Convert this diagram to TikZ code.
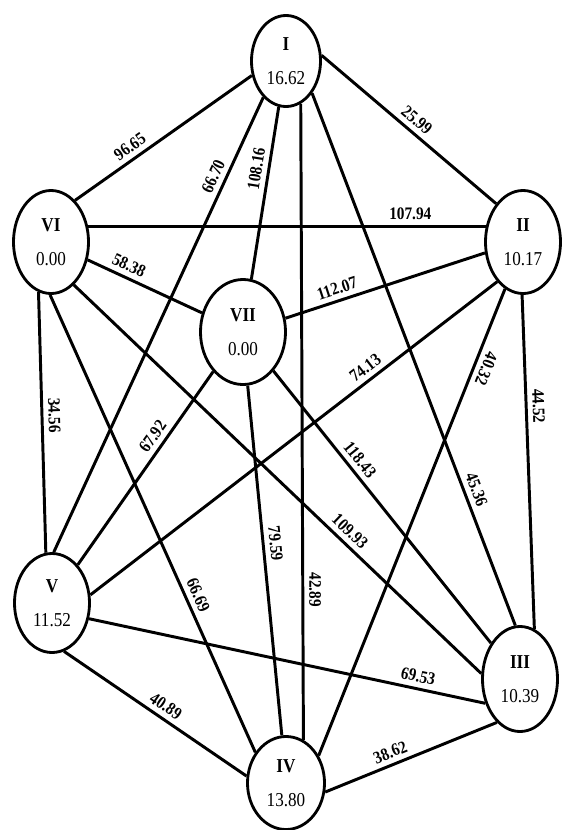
\documentclass[tikz,border=0pt]{standalone}
\usepackage{fontspec}
\setmainfont{Liberation Serif}
\newfontfamily\tallserif[FakeStretch=0.87]{Liberation Serif}
\usetikzlibrary{shapes.geometric}

\begin{document}
\begin{tikzpicture}[x=0.025cm,y=-0.025cm,
  vtx/.style={draw,ellipse,line width=2pt,inner sep=0pt,align=center,
    font=\tallserif\fontsize{14}{24}\selectfont},
  edge/.style={line width=2.1pt},
  wt/.style={sloped,above,inner sep=3.5pt,font=\tallserif\fontsize{12.5}{14}\selectfont\bfseries}]
\useasboundingbox (0,0) rectangle (563,830);
\node[vtx,minimum width=1.725cm,minimum height=2.275cm] (I) at (286,61) {\textbf{I}\\16.62};
\node[vtx,minimum width=1.875cm,minimum height=2.575cm] (VI) at (51,242) {\textbf{VI}\\0.00};
\node[vtx,minimum width=1.875cm,minimum height=2.575cm] (II) at (523,242) {\textbf{II}\\10.17};
\node[vtx,minimum width=2.125cm,minimum height=2.625cm] (VII) at (243,332) {\textbf{VII}\\0.00};
\node[vtx,minimum width=1.875cm,minimum height=2.475cm] (V) at (52,603) {\textbf{V}\\11.52};
\node[vtx,minimum width=1.875cm,minimum height=2.625cm] (III) at (520,679) {\textbf{III}\\10.39};
\node[vtx,minimum width=1.925cm,minimum height=2.325cm] (IV) at (286,783) {\textbf{IV}\\13.80};
\draw[edge] (I.203) -- node[wt,pos=.65] {96.65} (VI.60);
\draw[edge] (I.9) -- node[wt,pos=.5] {25.99} (II.125);
\draw[edge] (I.238) -- node[wt,pos=.185] {66.70} (V.88);
\draw[edge] (I.261) -- node[wt,pos=.37] {108.16} (VII.81);
\draw[edge] (I.-71) -- node[wt,pos=.764] {42.89} (IV.68);
\draw[edge] (I.-51) -- node[wt,pos=.753] {45.36} (III.95);
\draw[edge] (VI.23) -- node[wt,pos=.81] {107.94} (II.157);
\draw[edge] (VI.-26) -- node[wt,pos=.317] {58.38} (VII.155);
\draw[edge] (VI.-104) -- node[wt,pos=.474] {34.56} (V.97);
\draw[edge] (VI.-91) -- node[wt,pos=.667] {66.69} (IV.135);
\draw[edge] (VI.-62) -- node[wt,pos=.657] {109.93} (III.172);
\draw[edge] (VII.18) -- node[wt,pos=.278] {112.07} (II.196);
\draw[edge] (VII.233) -- node[wt,pos=.372] {67.92} (V.56);
\draw[edge] (VII.-85) -- node[wt,pos=.455] {79.59} (IV.95);
\draw[edge] (VII.-52) -- node[wt,pos=.354] {118.43} (III.129);
\draw[edge] (II.237) -- node[wt,pos=.306] {74.13} (V.12);
\draw[edge] (II.249) -- node[wt,pos=.162,allow upside down] {40.32} (IV.40);
\draw[edge] (II.269) -- node[wt,pos=.334] {44.52} (III.74);
\draw[edge] (V.-23) -- node[wt,pos=.824] {69.53} (III.215);
\draw[edge] (V.-76) -- node[wt,pos=.52] {40.89} (IV.170);
\draw[edge] (IV.-13) -- node[wt,pos=.406] {38.62} (III.242);
\end{tikzpicture}
\end{document}
